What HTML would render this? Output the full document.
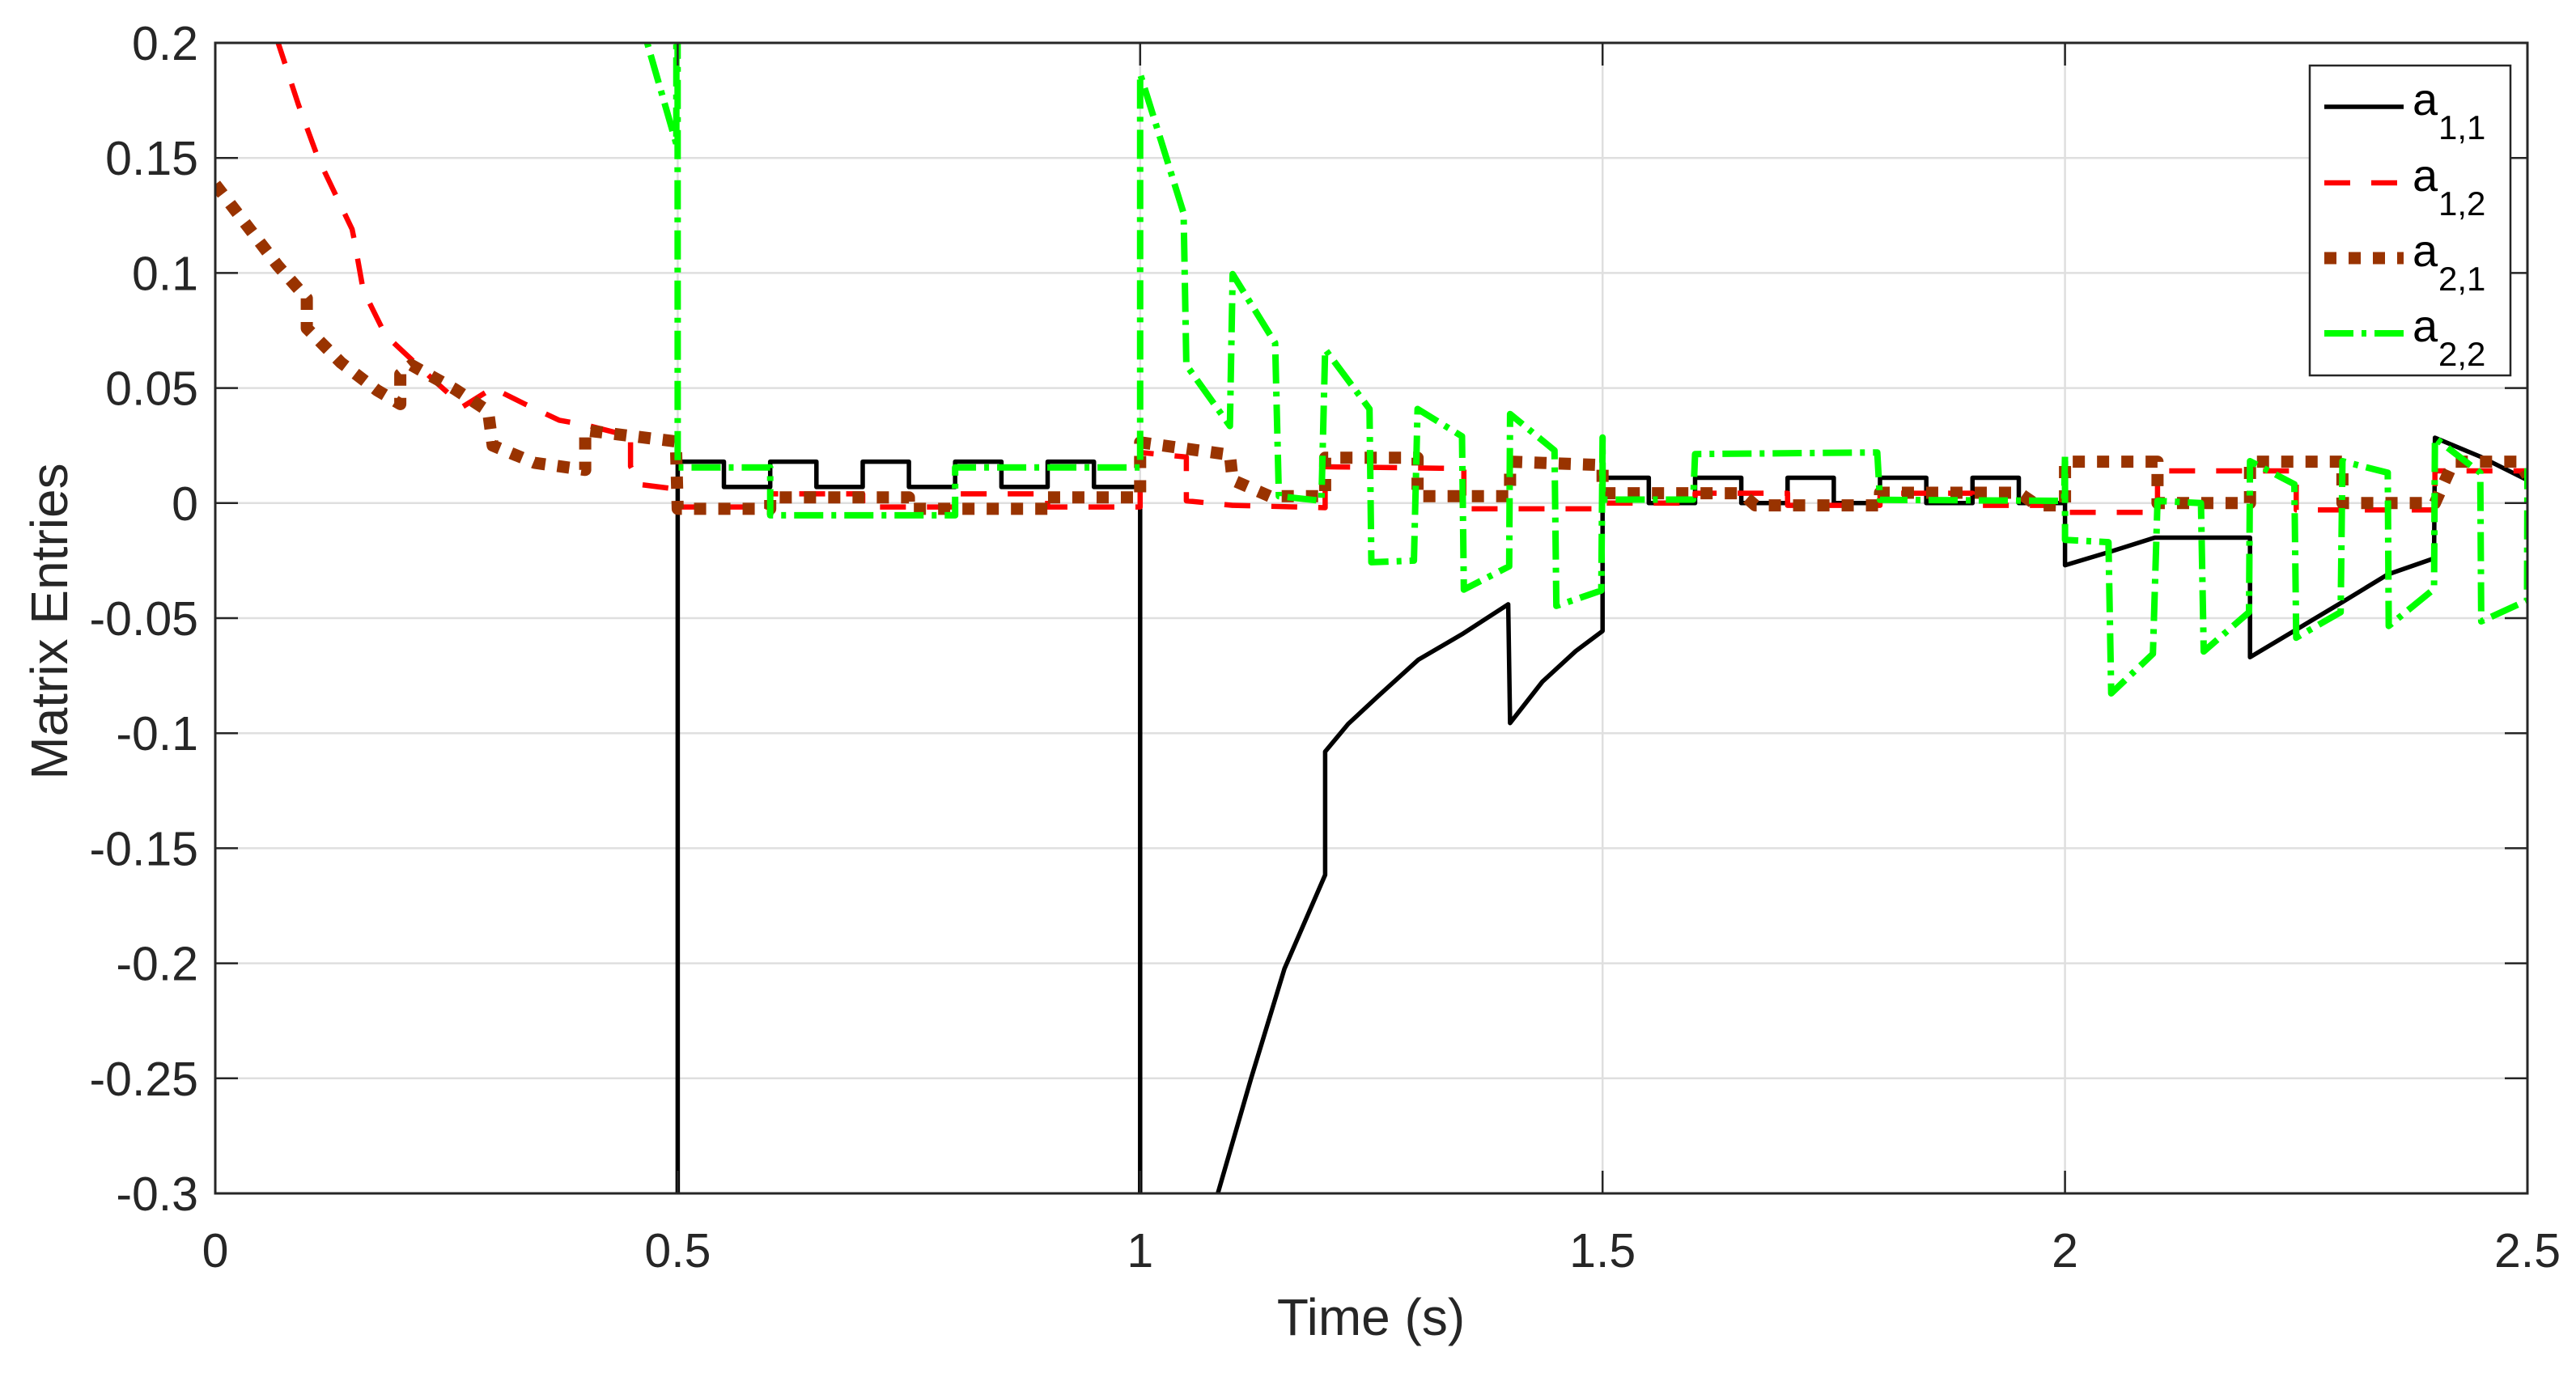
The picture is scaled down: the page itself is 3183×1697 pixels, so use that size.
<!DOCTYPE html>
<html><head><meta charset="utf-8"><style>
html,body{margin:0;padding:0;background:#fff;width:3183px;height:1697px;overflow:hidden;}
svg{display:block;font-family:"Liberation Sans",Arial,sans-serif;}
</style></head><body>
<svg id="chart" width="3183" height="1697" viewBox="0 0 3183 1697" xmlns="http://www.w3.org/2000/svg">
<defs><clipPath id="plotclip"><rect x="266" y="53" width="2857" height="1422"/></clipPath></defs>
<rect x="0" y="0" width="3183" height="1697" fill="#fff"/>
<rect x="266" y="53" width="2857" height="1422" fill="#fff"/>
<g id="grid"></g>
<g id="series" clip-path="url(#plotclip)"></g>
<g id="axes"></g>
<text x="1694" y="1650" font-size="64" text-anchor="middle" fill="#262626">Time (s)</text>
<text transform="translate(83,768) rotate(-90)" font-size="64" text-anchor="middle" fill="#262626">Matrix Entries</text>
<g id="legend"></g>
</svg>
<script>
const xTicks = [0, 0.5, 1, 1.5, 2, 2.5];
const xTickLabels = ["0", "0.5", "1", "1.5", "2", "2.5"];
const yTicks = [0.2, 0.15, 0.1, 0.05, 0, -0.05, -0.1, -0.15, -0.2, -0.25, -0.3];
const yTickLabels = ["0.2", "0.15", "0.1", "0.05", "0", "-0.05", "-0.1", "-0.15", "-0.2", "-0.25", "-0.3"];
const seriesNames = ["a11", "a12", "a21", "a22"];

const a11T = [0,0.5, 0.5,0.55, 0.55,0.6, 0.6,0.65, 0.65,0.7, 0.7,0.75, 0.75,0.8, 0.8,0.85, 0.85,0.9, 0.9,0.95, 0.95,1.0, 1.0, 1.05,1.084,1.12,1.156,1.2, 1.2,1.225,1.257,1.301,1.348,1.398, 1.4,1.435,1.471,1.5, 1.5,1.55, 1.55,1.6, 1.6,1.65, 1.65,1.7, 1.7,1.75, 1.75,1.8, 1.8,1.85, 1.85,1.9, 1.9,1.95, 1.95,2.0, 2.0,2.05,2.097,2.2, 2.2,2.248,2.3,2.349,2.399, 2.4,2.45,2.5];
const a11V = [-1,-1, 0.018,0.018, 0.007,0.007, 0.018,0.018, 0.007,0.007, 0.018,0.018, 0.007,0.007, 0.018,0.018, 0.007,0.007, 0.018,0.018, 0.007,0.007, -1, -0.42,-0.3,-0.25,-0.2024,-0.1616, -0.108,-0.096,-0.084,-0.068,-0.057,-0.044, -0.0956,-0.0776,-0.0643,-0.0556, 0.011,0.011, 0,0, 0.011,0.011, 0,0, 0.011,0.011, 0,0, 0.011,0.011, 0,0, 0.011,0.011, 0,0, -0.027,-0.021,-0.015,-0.015, -0.067,-0.0555,-0.043,-0.031,-0.024, 0.0284,0.02,0.010];

const a12T = [0,0.035,0.068,0.09,0.111,0.148,0.15,0.16,0.184,0.209,0.24,0.268, 0.3,0.335,0.372,0.4,0.449, 0.449,0.46,0.5, 0.5,0.6, 0.6,0.7, 0.7,0.8, 0.8,0.9, 0.9,1.0, 1.0,1.05, 1.05,1.1,1.2, 1.2,1.35, 1.35,1.5, 1.5,1.6, 1.6,1.7, 1.7,1.8, 1.8,1.9, 1.9,2.0, 2.0,2.1, 2.1,2.25, 2.25,2.4, 2.4,2.5];
const a12V = [0.3,0.245,0.2,0.173,0.15,0.119,0.115,0.0925,0.073,0.0636,0.052,0.042, 0.050,0.043,0.036,0.034,0.029, 0.016,0.008,0.006, -0.0017,-0.0017, 0.004,0.004, -0.0017,-0.0017, 0.004,0.004, -0.0017,-0.0017, 0.022,0.020, 0.001,-0.001,-0.002, 0.0158,0.015, -0.0025,-0.0025, 0,0, 0.0043,0.0043, -0.001,-0.001, 0.0043,0.0043, -0.001,-0.001, -0.004,-0.004, 0.014,0.014, -0.003,-0.003, 0.014,0.014];

const a21T = [0,0.068,0.099, 0.099,0.136,0.175,0.2, 0.2,0.212,0.259,0.295, 0.3,0.345,0.4, 0.4,0.498, 0.5,0.6, 0.6,0.75, 0.75,0.9, 0.9,1.0, 1.0,1.097, 1.1,1.14,1.2, 1.2,1.3, 1.3,1.4, 1.4,1.5, 1.5,1.65, 1.665,1.8, 1.8,1.95, 1.97,2.0, 2.0,2.1, 2.1,2.2, 2.2,2.3, 2.3,2.4, 2.42,2.49,2.5];
const a21V = [0.1385,0.103,0.089, 0.076,0.061,0.049,0.043, 0.056,0.060,0.0495,0.040, 0.025,0.0175,0.0144, 0.0316,0.0268, -0.0025,-0.0025, 0.0025,0.0025, -0.0025,-0.0025, 0.0025,0.0025, 0.0264,0.021, 0.010,0.003,0.003, 0.0197,0.0197, 0.003,0.003, 0.018,0.0165, 0.0043,0.0043, -0.001,-0.001, 0.0045,0.0045, -0.001,-0.001, 0.018,0.018, 0,0, 0.018,0.018, 0,0, 0.018,0.018,0.012];

const a22T = [0.4,0.44,0.467,0.4985, 0.4995,0.5, 0.6,0.6, 0.8,0.8, 1.0,1.0, 1.047,1.05, 1.097,1.1, 1.146,1.15, 1.196,1.2, 1.248,1.25, 1.296,1.3, 1.348,1.35, 1.399,1.4, 1.448,1.45, 1.4986,1.5, 1.5,1.598, 1.6,1.797, 1.8,1.999, 2.0,2.0, 2.047,2.05, 2.095,2.1, 2.147,2.15, 2.199,2.2, 2.248,2.25, 2.298,2.3, 2.349,2.35, 2.399,2.4, 2.449,2.45, 2.4996,2.5];
const a22V = [0.3,0.238,0.2,0.156, 1.0,0.0155, 0.0155,-0.0053, -0.0053,0.0155, 0.0155,0.1866, 0.126,0.060, 0.0335,0.0995, 0.0696,0.003, 0.001,0.0668, 0.0409,-0.0257, -0.025,0.0409, 0.029,-0.0376, -0.0275,0.0387, 0.0229,-0.0447, -0.038,0.0285, 0.0015,0.0015, 0.0213,0.022, 0.0014,0.001, 0.021,-0.016, -0.017,-0.0827, -0.0655,0.001, 0.0,-0.0645, -0.0474,0.0182, 0.0082,-0.0585, -0.0474,0.0182, 0.0132,-0.0534, -0.0373,0.0283, 0.0132,-0.0514, -0.0423,0.0152];

const NS = "http://www.w3.org/2000/svg";
const L = 266, R = 3123, T = 53, B = 1475;
const xMin = 0, xMax = 2.5, yMin = -0.3, yMax = 0.2;
function xScale(t){ return L + (t - xMin) / (xMax - xMin) * (R - L); }
function yScale(v){ return B - (v - yMin) / (yMax - yMin) * (B - T); }
function mk(tag, attrs, parent){
  const e = document.createElementNS(NS, tag);
  for (const k in attrs) e.setAttribute(k, attrs[k]);
  parent.appendChild(e);
  return e;
}
const grid = document.getElementById('grid');
const axes = document.getElementById('axes');
const series = document.getElementById('series');
const legend = document.getElementById('legend');

xTicks.forEach((t, i) => {
  const x = xScale(t);
  if (i > 0 && i < xTicks.length - 1) {
    const g = mk('line', {x1:x, x2:x, y1:T, y2:B, stroke:'#dfdfdf', 'stroke-width':2.5}, grid);
    
    
  }
  const tk1 = mk('line', {x1:x, x2:x, y1:B, y2:B-28, stroke:'#262626', 'stroke-width':2.5}, axes);
  
  
  const tk2 = mk('line', {x1:x, x2:x, y1:T, y2:T+28, stroke:'#262626', 'stroke-width':2.5}, axes);
  
  
  const lb = mk('text', {x:x, y:1566, 'font-size':59, 'text-anchor':'middle', fill:'#262626'}, axes);
  lb.textContent = xTickLabels[i];
  
  
});
yTicks.forEach((v, i) => {
  const y = yScale(v);
  if (i > 0 && i < yTicks.length - 1) {
    const g = mk('line', {x1:L, x2:R, y1:y, y2:y, stroke:'#dfdfdf', 'stroke-width':2.5}, grid);
    
    
  }
  const tk1 = mk('line', {x1:L, x2:L+28, y1:y, y2:y, stroke:'#262626', 'stroke-width':2.5}, axes);
  
  
  const tk2 = mk('line', {x1:R, x2:R-28, y1:y, y2:y, stroke:'#262626', 'stroke-width':2.5}, axes);
  
  
  const lb = mk('text', {x:245, y:y+21, 'font-size':59, 'text-anchor':'end', fill:'#262626'}, axes);
  lb.textContent = yTickLabels[i];
  
  
});
const frame = mk('rect', {x:L, y:T, width:R-L, height:B-T, fill:'none', stroke:'#262626', 'stroke-width':3}, axes);



const styles = [
  {T:a11T, V:a11V, color:'#000000', w:5.5, dash:'none', cap:'butt', name:'series-a11'},
  {T:a12T, V:a12V, color:'#ff0000', w:6.5, dash:'32 26', cap:'butt', name:'series-a12'},
  {T:a21T, V:a21V, color:'#993300', w:15, dash:'15 15', cap:'butt', name:'series-a21'},
  {T:a22T, V:a22V, color:'#00ff00', w:8, dash:'36 10 6 10', cap:'butt', name:'series-a22'}
];
styles.forEach(s => {
  let d = '';
  for (let i = 0; i < s.T.length; i++) {
    d += (i === 0 ? 'M' : 'L') + xScale(s.T[i]).toFixed(1) + ' ' + yScale(s.V[i]).toFixed(1) + ' ';
  }
  const p = mk('path', {d:d, fill:'none', stroke:s.color, 'stroke-width':s.w, 'stroke-linejoin':'round', 'stroke-linecap':s.cap}, series);
  if (s.dash !== 'none') p.setAttribute('stroke-dasharray', s.dash);
  
  
});

const box = mk('rect', {x:2854, y:81, width:248, height:383, fill:'#fff', stroke:'#262626', 'stroke-width':2.5}, legend);


const subs = ['1,1', '1,2', '2,1', '2,2'];
const rowY = [132, 226, 319, 412];
styles.forEach((s, i) => {
  const y = rowY[i];
  const ln = mk('line', {x1:2872, x2:2970, y1:y, y2:y, stroke:s.color, 'stroke-width':s.w}, legend);
  if (s.dash !== 'none') ln.setAttribute('stroke-dasharray', s.dash);
  
  
  const tx = mk('text', {x:2981, y:y+10, 'font-size':56, fill:'#000'}, legend);
  tx.textContent = 'a';
  
  
  const sb = mk('text', {x:3013, y:y+40, 'font-size':42, fill:'#000'}, legend);
  sb.textContent = subs[i];
  
  
});
</script>
</body></html>
